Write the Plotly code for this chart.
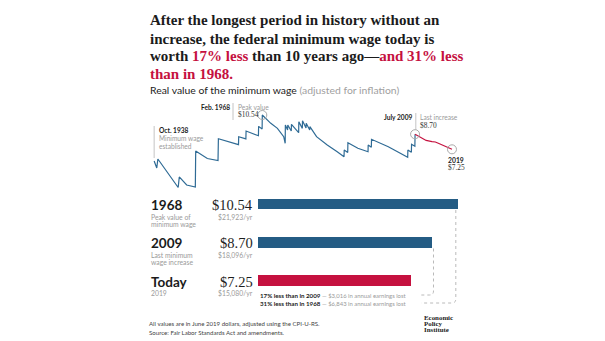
import plotly.graph_objects as go

# ---------------- data ----------------
years_blue = [1938.79, 1939.5, 1939.8, 1945.3, 1945.6, 1947.6, 1949.95, 1950.05, 1953.2, 1956.1,
              1956.2, 1961.65, 1961.7, 1963.65, 1963.7, 1967.05, 1967.1, 1968.05, 1968.1, 1969.0,
              1970.4, 1972.2, 1973.9, 1974.3, 1974.35, 1974.95, 1975.0, 1975.95, 1976.0, 1977.95,
              1978.0, 1978.95, 1979.0, 1979.95, 1980.0, 1980.95, 1981.0, 1982.8, 1985.7, 1988.4,
              1990.25, 1990.3, 1991.25, 1991.3, 1994.0, 1996.75, 1996.8, 1997.65, 1997.7, 2002.25,
              2007.5, 2007.55, 2008.5, 2008.55, 2009.45, 2009.5]
wage_blue = [6.13, 5.46, 6.32, 3.59, 4.60, 3.83, 3.64, 7.09, 6.37, 6.18,
             8.27, 7.70, 8.46, 8.25, 9.00, 8.55, 9.45, 9.20, 10.54, 10.20,
             9.74, 9.26, 8.46, 7.83, 9.58, 9.10, 9.58, 9.00, 9.65, 8.85,
             9.90, 9.26, 9.99, 9.30, 9.74, 9.10, 9.42, 8.46, 7.66, 7.02,
             6.54, 7.18, 6.95, 7.88, 7.35, 7.02, 7.66, 7.45, 8.21, 7.50,
             6.48, 7.18, 6.96, 7.73, 7.55, 8.70]
years_red = [2009.5, 2010.0, 2011.3, 2012.5, 2014.1, 2015.0, 2015.8, 2017.6, 2019.5]
wage_red = [8.70, 8.60, 8.31, 8.10, 7.98, 7.95, 7.83, 7.57, 7.25]
highlight_years = [1968.1, 2009.5, 2019.5]
highlight_wage = [10.54, 8.70, 7.25]

bar_labels = ["1968", "2009", "Today"]
bar_sub1 = ["Peak value of", "Last minimum", "2019"]
bar_sub2 = ["minimum wage", "wage increase", ""]
bar_values = [10.54, 8.70, 7.25]
hours_per_year = 2080

BLUE_LINE = "#2f6b95"
BLUE_BAR = "#245c84"
RED = "#c5113f"
GRAY = "#9a9a9a"
DARK = "#1b1b1b"
SANS = "Lato, 'Open Sans', sans-serif"
SERIF = "'Liberation Serif', 'DejaVu Serif', serif"

W, H = 605, 341
def px(x): return x / W
def py(y): return 1 - y / H

fig = go.Figure()

# line chart
fig.add_trace(go.Scatter(x=years_blue, y=wage_blue, mode="lines",
                         line=dict(color=BLUE_LINE, width=1.2), xaxis="x", yaxis="y",
                         hoverinfo="skip", cliponaxis=False))
fig.add_trace(go.Scatter(x=years_red, y=wage_red, mode="lines",
                         line=dict(color=RED, width=1.2), xaxis="x", yaxis="y",
                         hoverinfo="skip", cliponaxis=False))
fig.add_trace(go.Scatter(x=highlight_years, y=highlight_wage, mode="markers",
                         marker=dict(symbol="circle-open", size=9, color="#aaaaaa",
                                     line=dict(width=1, color="#aaaaaa")),
                         xaxis="x", yaxis="y", hoverinfo="skip", cliponaxis=False))

# bars
bar_min = -3.464
bar_colors = [BLUE_BAR, BLUE_BAR, RED]
fig.add_trace(go.Bar(x=[v - bar_min for v in bar_values], y=bar_labels, base=bar_min,
                     orientation="h", marker=dict(color=bar_colors, line=dict(width=0)),
                     width=0.28, xaxis="x2", yaxis="y2", hoverinfo="skip"))

def yr_at(xp): return 1938.75 + (xp - 154) / 3.69
def val_at(yp): return 10.54 - (yp - 115) / 10.43
fig.update_layout(
    xaxis=dict(domain=[px(150), px(456)], range=[yr_at(150), yr_at(456)], visible=False),
    yaxis=dict(domain=[py(192), py(105)], range=[val_at(192), val_at(105)], visible=False),
    xaxis2=dict(domain=[px(257.5), px(460)], range=[bar_min, bar_min + 202.5 / 14.31], visible=False),
    yaxis2=dict(domain=[py(299), py(185)], range=[-0.484, 2.497], visible=False,
                categoryorder="array", categoryarray=["Today", "2009", "1968"]),
)

ann = []
def txt(x, y, text, size, color=DARK, family=SANS, anchor="left"):
    ann.append(dict(x=px(x), y=py(y), xref="paper", yref="paper", text=text, showarrow=False,
                    xanchor=anchor, yanchor="middle", font=dict(size=size, color=color, family=family)))

# title
def red(s): return f"<span style='color:{RED}'>{s}</span>"
ts = 15
txt(148, 20.5, "<b>After the longest period in history without an</b>", ts, DARK, SERIF)
txt(148, 38.5, "<b>increase, the federal minimum wage today is</b>", ts, DARK, SERIF)
txt(148, 56.0, "<b>worth " + red("17% less") + " than 10 years ago—" + red("and 31% less") + "</b>", ts, DARK, SERIF)
txt(148, 73.5, "<b>" + red("than in 1968.") + "</b>", ts, DARK, SERIF)
txt(148, 89.5, "Real value of the minimum wage <span style='color:#a0a0a0'>(adjusted for inflation)</span>", 10.4, "#222222")

# line annotations
txt(156.5, 129.5, "<b>Oct. 1938</b>", 6.6)
txt(156.5, 138, "Minimum wage", 6.6, GRAY)
txt(156.5, 145.5, "established", 6.6, GRAY)
txt(231.5, 106.7, "<b>Feb. 1968</b>", 6.6, anchor="right")
txt(235.5, 106.7, "Peak value", 6.6, GRAY)
txt(235.5, 114.3, "$10.54", 7.4, "#333333", SERIF)
txt(414, 117.3, "<b>July 2009</b>", 6.6, anchor="right")
txt(418, 117.3, "Last increase", 6.6, GRAY)
txt(418, 125.3, "$8.70", 7.4, "#333333", SERIF)
txt(446, 160, "<b>2019</b>", 6.8)
txt(446, 167.5, "$7.25", 7.4, "#333333", SERIF)

# bar labels
row_y = [205, 243, 281.5]
for i, lab in enumerate(bar_labels):
    y0 = row_y[i]
    txt(148.5, y0, f"<b>{lab}</b>", 13.5)
    txt(148.5, y0 + 11.5, bar_sub1[i], 6.8, GRAY)
    if bar_sub2[i]:
        txt(148.5, y0 + 19, bar_sub2[i], 6.8, GRAY)
    txt(254.5, y0, f"${bar_values[i]:.2f}", 14.5, "#1e1e1e", SERIF, anchor="right")
    txt(254.5, y0 + 12, f"${bar_values[i] * hours_per_year:,.0f}/yr", 6.8, GRAY, anchor="right")

today = bar_values[2]
loss09 = round(bar_values[1] * hours_per_year) - round(today * hours_per_year)
loss68 = round(bar_values[0] * hours_per_year) - round(today * hours_per_year)
pct09 = round((1 - today / bar_values[1]) * 100)
pct68 = round((1 - today / bar_values[0]) * 100)
txt(258, 295, f"<b>{pct09}% less than in 2009</b> <span style='color:{GRAY};font-size:5.9px'>— ${loss09:,} in annual earnings lost</span>", 6.2, DARK)
txt(258, 303, f"<b>{pct68}% less than in 1968</b> <span style='color:{GRAY};font-size:5.9px'>— ${loss68:,} in annual earnings lost</span>", 6.2, DARK)

# footnotes
txt(147, 323.3, "All values are in June 2019 dollars, adjusted using the CPI-U-RS.", 6.1, "#444444")
txt(147, 332, "Source: Fair Labor Standards Act and amendments.", 6.1, "#444444")
txt(421.5, 317.2, "<b>Economic</b>", 6.9, "#222222", SERIF)
txt(421.5, 323.4, "<b>Policy</b>", 6.9, "#222222", SERIF)
txt(421.5, 329.6, "<b>Institute</b>", 6.9, "#222222", SERIF)

shapes = []
shapes.append(dict(type="line", xref="x", yref="paper", x0=years_blue[0], x1=years_blue[0],
                   y0=py(126), y1=py(158), line=dict(color="#b5b5b5", width=0.8)))
shapes.append(dict(type="line", xref="paper", yref="paper", x0=px(233), x1=px(233), y0=py(103), y1=py(120),
                   line=dict(color="#b5b5b5", width=0.8)))
shapes.append(dict(type="line", xref="paper", yref="paper", x0=px(415.8), x1=px(415.8), y0=py(113), y1=py(130),
                   line=dict(color="#b5b5b5", width=0.8)))

def connector(xe, ytop, ytxt, xleft):
    r = 4
    path = (f"M {px(xe)},{py(ytop)} L {px(xe)},{py(ytxt - r)} "
            f"Q {px(xe)},{py(ytxt)} {px(xe - r)},{py(ytxt)} L {px(xleft)},{py(ytxt)}")
    shapes.append(dict(type="path", xref="paper", yref="paper", path=path,
                       line=dict(color="#a8a8a8", width=0.8, dash="dot")))
connector(433.5, 248.5, 295, 421)
connector(455.8, 210, 303, 421)

fig.update_layout(annotations=ann, shapes=shapes, width=W, height=H,
                  margin=dict(l=0, r=0, t=0, b=0), paper_bgcolor="white", plot_bgcolor="white",
                  showlegend=False, bargap=0)
fig.write_html("out.html")
